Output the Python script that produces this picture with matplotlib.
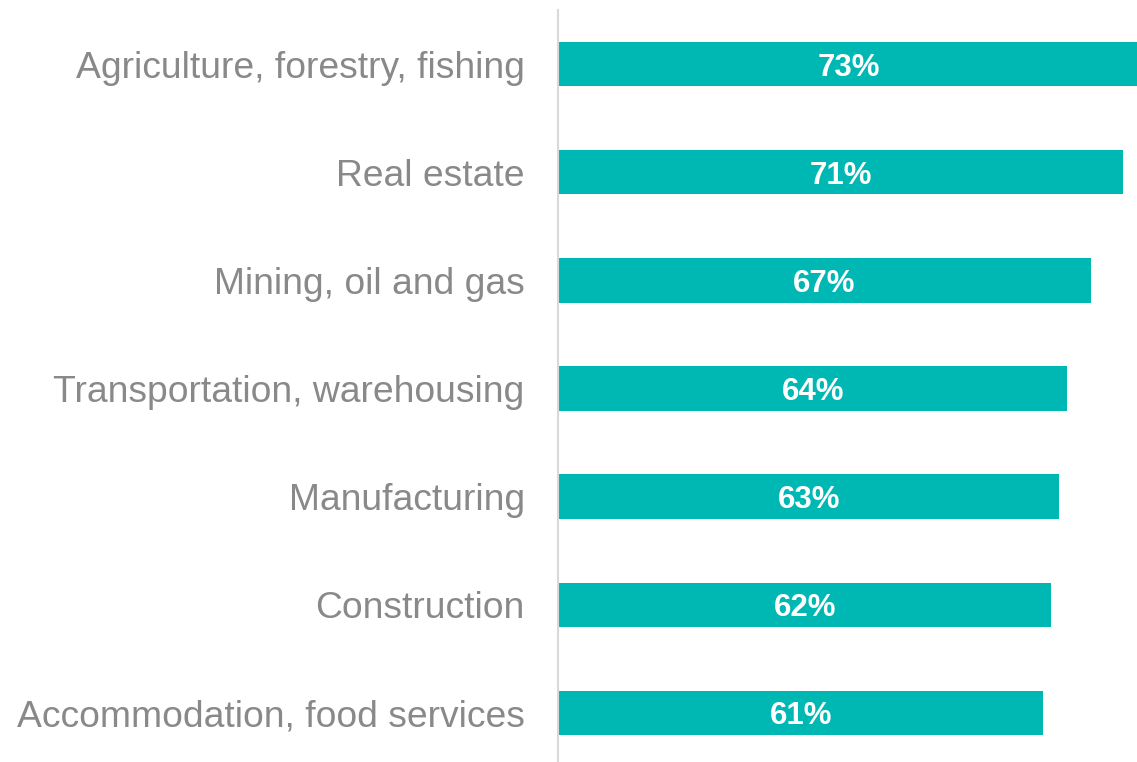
import matplotlib.pyplot as plt

plt.rcParams['font.family'] = ['Liberation Sans', 'DejaVu Sans']

categories = [
    "Agriculture, forestry, fishing",
    "Real estate",
    "Mining, oil and gas",
    "Transportation, warehousing",
    "Manufacturing",
    "Construction",
    "Accommodation, food services",
]
shares = [73, 71, 67, 64, 63, 62, 61]

bar_color = "#00b8b3"
label_color = "#898989"
line_color = "#d9d9d9"

fig = plt.figure(figsize=(11.37, 7.62), dpi=100)
ax = fig.add_axes([558 / 1137, 1 - 767 / 762, 1 - 558 / 1137, 757 / 762])

ypos = list(range(len(categories)))
ax.barh(ypos, shares, height=0.41, color=bar_color, edgecolor="none")

for y, v in zip(ypos, shares):
    ax.text(v / 2, y, f"{v}%", ha="center", va="center_baseline",
            color="white", fontsize=22.5, fontweight="bold")

ax.set_yticks(ypos)
ax.set_yticklabels(categories, fontsize=26.8, color=label_color,
                   va="center_baseline")
ax.tick_params(axis="y", length=0, pad=24)
ax.set_xticks([])
ax.set_xlim(0, 72.75)
ax.set_ylim(6.5, -0.5)

for side in ["top", "right", "bottom"]:
    ax.spines[side].set_visible(False)
ax.spines["left"].set_color(line_color)
ax.spines["left"].set_linewidth(1.5)

fig.savefig("out.png", dpi=100)
